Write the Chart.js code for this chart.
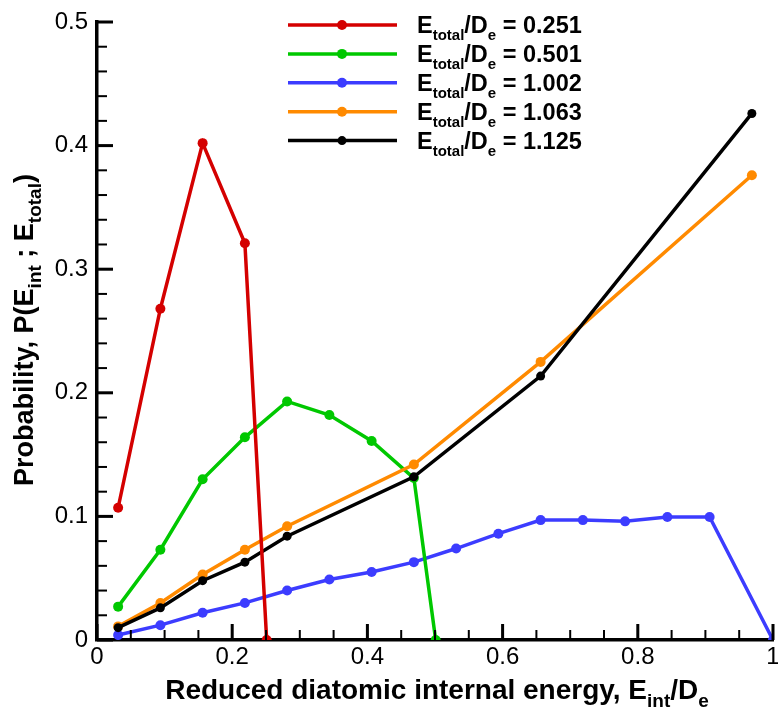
<!DOCTYPE html>
<html>
<head>
<meta charset="utf-8">
<script src="https://cdn.jsdelivr.net/npm/chart.js@4.4.0/dist/chart.umd.min.js"></script>
<style>
  html, body { margin: 0; padding: 0; background: #fff; }
  #wrap { width: 778px; height: 708px; }
</style>
</head>
<body>
<div id="wrap"><canvas id="chart" width="778" height="708"></canvas></div>
<script>
// values
var seriesLabels = ['0.251', '0.501', '1.002', '1.063', '1.125'];
var seriesColors = ['#d40000', '#00c800', '#3c3cff', '#ff8a00', '#000000'];

var xRed = [0.03125, 0.09375, 0.15625, 0.21875, 0.251];
var yRed = [0.107, 0.268, 0.402, 0.321, 0];

var xGreen = [0.03125, 0.09375, 0.15625, 0.21875, 0.28125, 0.34375, 0.40625, 0.46875, 0.501];
var yGreen = [0.027, 0.073, 0.130, 0.164, 0.193, 0.182, 0.161, 0.131, 0];

var xBlue = [0.03125, 0.09375, 0.15625, 0.21875, 0.28125, 0.34375, 0.40625, 0.46875,
             0.53125, 0.59375, 0.65625, 0.71875, 0.78125, 0.84375, 0.90625, 1.0];
var yBlue = [0.004, 0.012, 0.022, 0.030, 0.040, 0.049, 0.055, 0.063,
             0.074, 0.086, 0.097, 0.097, 0.096, 0.0995, 0.0995, 0];

var xOrange = [0.03125, 0.09375, 0.15625, 0.21875, 0.28125, 0.46875, 0.65625, 0.96875];
var yOrange = [0.011, 0.030, 0.053, 0.073, 0.092, 0.142, 0.225, 0.376];

var xBlack = [0.03125, 0.09375, 0.15625, 0.21875, 0.28125, 0.46875, 0.65625, 0.96875];
var yBlack = [0.010, 0.026, 0.048, 0.063, 0.084, 0.132, 0.2135, 0.426];

var xMajor = [0, 0.2, 0.4, 0.6, 0.8, 1];
var xMinor = [0.05, 0.1, 0.15, 0.25, 0.3, 0.35, 0.45, 0.5, 0.55, 0.65, 0.7, 0.75, 0.85, 0.9, 0.95];
var yMajor = [0, 0.1, 0.2, 0.3, 0.4, 0.5];
var yMinor = [0.02, 0.04, 0.06, 0.08, 0.12, 0.14, 0.16, 0.18, 0.22, 0.24, 0.26, 0.28,
              0.32, 0.34, 0.36, 0.38, 0.42, 0.44, 0.46, 0.48];

var FONT = "'Liberation Sans', Arial, Helvetica, sans-serif";

function pts(xs, ys) {
  return xs.map(function(x, i) { return { x: x, y: ys[i] }; });
}

var allX = [xRed, xGreen, xBlue, xOrange, xBlack];
var allY = [yRed, yGreen, yBlue, yOrange, yBlack];
var drawOrder = [0, 3, 4, 2, 1];

var datasets = seriesLabels.map(function(lab, i) {
  return {
    label: lab,
    data: pts(allX[i], allY[i]),
    borderColor: seriesColors[i],
    backgroundColor: seriesColors[i],
    pointBackgroundColor: seriesColors[i],
    pointBorderWidth: 0,
    pointRadius: i === 4 ? 4.5 : 5,
    borderWidth: 3.5,
    tension: 0,
    order: drawOrder[i]
  };
});

// text with subscripts: parts = [[text, isSub], ...]
function richWidth(ctx, parts, size, subSize) {
  var w = 0;
  parts.forEach(function(p) {
    ctx.font = 'bold ' + (p[1] ? subSize : size) + 'px ' + FONT;
    w += ctx.measureText(p[0]).width;
  });
  return w;
}
function drawRich(ctx, parts, x, y, size, subSize, subDrop) {
  ctx.textAlign = 'left';
  ctx.textBaseline = 'alphabetic';
  parts.forEach(function(p) {
    ctx.font = 'bold ' + (p[1] ? subSize : size) + 'px ' + FONT;
    ctx.fillText(p[0], x, p[1] ? y + subDrop : y);
    x += ctx.measureText(p[0]).width;
  });
}

var decorPlugin = {
  id: 'decor',
  afterDraw: function(chart) {
    var ctx = chart.ctx;
    var xs = chart.scales.x, ys = chart.scales.y;
    var area = chart.chartArea;
    ctx.save();

    // inward ticks on the two axes
    function tick(px, len, w, vertical) {
      ctx.fillStyle = '#000';
      if (vertical) ctx.fillRect(px - w / 2, area.bottom - len, w, len);
      else ctx.fillRect(area.left, px - w / 2, len, w);
    }
    xMajor.forEach(function(v) { tick(xs.getPixelForValue(v), 16, 3, true); });
    xMinor.forEach(function(v) { tick(xs.getPixelForValue(v), 10, 2, true); });
    yMajor.forEach(function(v) { tick(ys.getPixelForValue(v), 16, 3, false); });
    yMinor.forEach(function(v) { tick(ys.getPixelForValue(v), 10, 2, false); });

    // legend
    chart.data.datasets.forEach(function(ds, i) {
      var rowY = 25 + i * 28.9;
      ctx.strokeStyle = ds.borderColor;
      ctx.lineWidth = 3.5;
      ctx.beginPath();
      ctx.moveTo(288, rowY);
      ctx.lineTo(397, rowY);
      ctx.stroke();
      ctx.fillStyle = ds.borderColor;
      ctx.beginPath();
      ctx.arc(342, rowY, ds.pointRadius, 0, Math.PI * 2);
      ctx.fill();
      ctx.fillStyle = '#000';
      drawRich(ctx, [['E', false], ['total', true], ['/D', false], ['e', true], [' = ' + ds.label, false]],
               417, rowY + 8, 23.5, 15, 7);
    });

    // x axis title
    var xt = [['Reduced diatomic internal energy, E', false], ['int', true], ['/D', false], ['e', true]];
    var xw = richWidth(ctx, xt, 28, 19);
    drawRich(ctx, xt, 437 - xw / 2, 699, 28, 19, 8);

    // y axis title
    var yt = [['Probability, P(E', false], ['int', true], [' ; E', false], ['total', true], [')', false]];
    var yw = richWidth(ctx, yt, 27, 19);
    ctx.translate(33, 330);
    ctx.rotate(-Math.PI / 2);
    drawRich(ctx, yt, -yw / 2, 0, 27, 19, 8);
    ctx.restore();
  }
};

var Cnvs = document.getElementById('chart');
var option = {
  responsive: false,
  animation: false,
  devicePixelRatio: 1,
  layout: { padding: { top: 22, right: 5, left: 0, bottom: 0 } },
  plugins: { legend: { display: false }, tooltip: { enabled: false } },
  scales: {
    x: {
      type: 'linear', min: 0, max: 1,
      grid: { display: false, drawTicks: false },
      border: { display: true, color: '#000', width: 3.5 },
      ticks: {
        stepSize: 0.2, padding: 3, color: '#000',
        font: { family: FONT, size: 24 },
        maxRotation: 0,
        callback: function(v) { return String(Math.round(v * 10) / 10); }
      },
      afterFit: function(s) { s.height = 68; s.paddingLeft = 0; s.paddingRight = 0; }
    },
    y: {
      type: 'linear', min: 0, max: 0.5,
      grid: { display: false, drawTicks: false },
      border: { display: true, color: '#000', width: 3.5 },
      ticks: {
        stepSize: 0.1, padding: 9, color: '#000',
        font: { family: FONT, size: 24 },
        callback: function(v) { return String(Math.round(v * 10) / 10); }
      },
      afterFit: function(s) { s.width = 97; s.paddingTop = 0; s.paddingBottom = 0; }
    }
  }
};

var lineChart = new Chart(Cnvs, {
  type: 'line',
  data: { datasets: datasets },
  options: option,
  plugins: [decorPlugin]
});
</script>
</body>
</html>
